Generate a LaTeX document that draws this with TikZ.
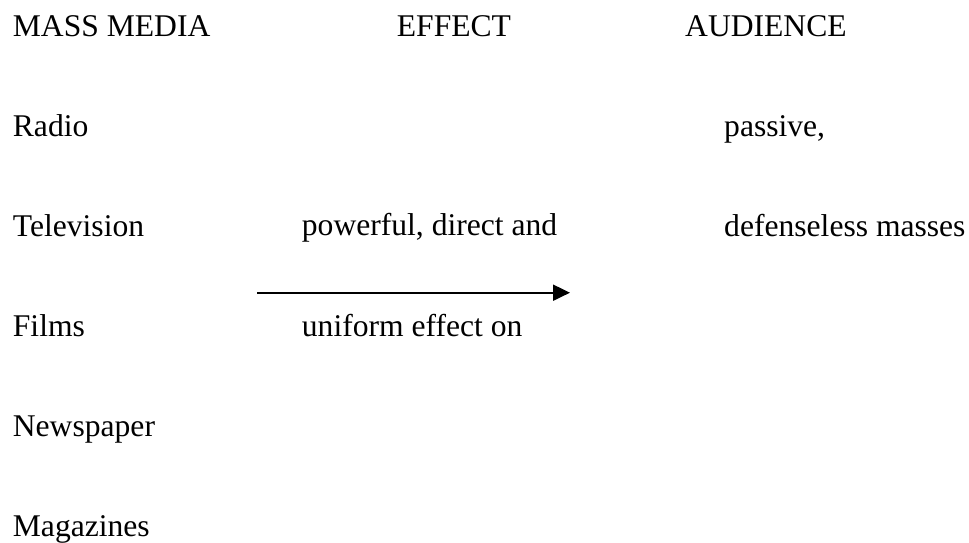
\documentclass[tikz,border=0pt]{standalone}
\usepackage{fontspec}
\setmainfont{Liberation Serif}
\usetikzlibrary{arrows.meta}
\begin{document}
\begin{tikzpicture}[x=1pt,y=1pt,
  label/.style={anchor=base west,inner sep=0pt,font=\fontsize{31.6}{38}\selectfont},
  flow/.style={line width=2pt,-{Triangle[length=17pt,width=16pt]}}]
\useasboundingbox (0,0) rectangle (969,-542);
% column headings
\node[label] (hmedia) at (12.7,-36.5) {MASS MEDIA};
\node[label] (heffect) at (396.7,-36.5) {EFFECT};
\node[label] (haud) at (685,-36.5) {AUDIENCE};
% media list
\node[label] (radio) at (12.7,-136) {Radio};
\node[label] (tv) at (12.7,-236) {Television};
\node[label] (films) at (12.7,-336) {Films};
\node[label] (news) at (12.7,-436) {Newspaper};
\node[label] (mags) at (12.7,-536) {Magazines};
% effect description
\node[label] (eff1) at (301.7,-235) {powerful, direct and};
\node[label] (eff2) at (301.7,-336) {uniform effect on};
% audience description
\node[label] (aud1) at (724,-136) {passive,};
\node[label] (aud2) at (724,-236) {defenseless masses};
% arrow
\coordinate (a0) at (257.3,-292.7);
\coordinate (a1) at (570,-292.7);
\draw[flow] (a0) -- (a1);
\end{tikzpicture}
\end{document}
